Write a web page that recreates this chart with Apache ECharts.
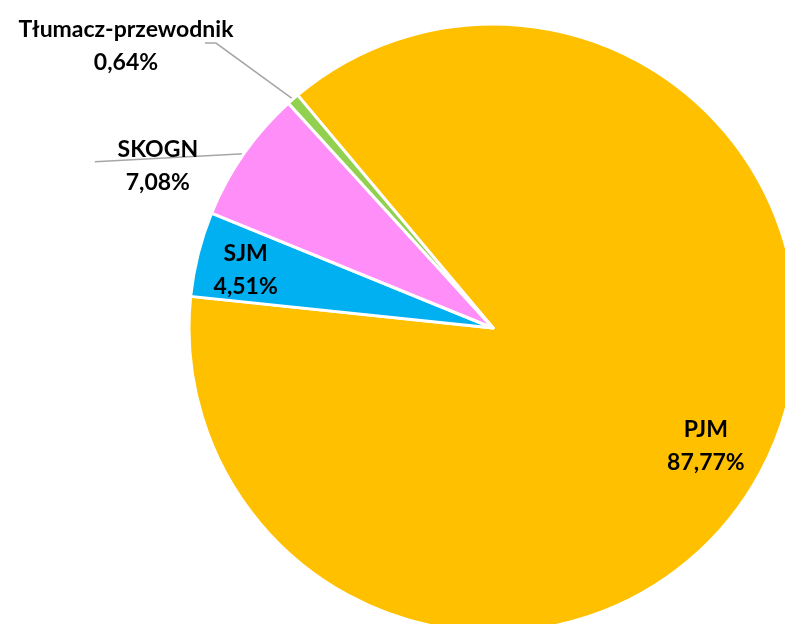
<!DOCTYPE html>
<html>
<head>
<meta charset="utf-8">
<script src="https://cdn.jsdelivr.net/npm/echarts@6/dist/echarts.min.js"></script>
<style>
html,body{margin:0;padding:0;background:#fff;}
#chart{width:785px;height:624px;}
</style>
</head>
<body>
<div id="chart"></div>
<script>
const categories = ['PJM', 'SJM', 'SKOGN', 'Tłumacz-przewodnik'];
const values = [87.77, 4.51, 7.08, 0.64];
const colors = ['#FFC000', '#00B0F0', '#FF8EF8', '#92D050'];
const labelPositions = ['inside', 'inside', 'outside', 'outside'];

const chart = echarts.init(document.getElementById('chart'));

const data = categories.map((name, i) => ({
  name: name,
  value: values[i],
  itemStyle: { color: colors[i] },
  label: { position: labelPositions[i] },
  labelLine: { show: labelPositions[i] === 'outside' }
}));

function fmt(v) { return v.toFixed(2).replace('.', ',') + '%'; }

chart.setOption({
  animation: false,
  backgroundColor: '#ffffff',
  series: [{
    type: 'pie',
    center: [493, 328],
    radius: 304,
    startAngle: 130,
    clockwise: true,
    avoidLabelOverlap: false,
    itemStyle: { borderColor: '#ffffff', borderWidth: 3 },
    label: {
      formatter: p => p.name + '\n' + fmt(p.value),
      fontFamily: 'Lato',
      fontWeight: 'bold',
      fontSize: 23,
      lineHeight: 33,
      color: '#000000',
      align: 'center'
    },
    labelLine: {
      length: 10,
      length2: 10,
      lineStyle: { color: '#A6A6A6', width: 1.5 }
    },
    labelLayout: function (p) {
      const r = p.labelRect;
      const cx = r.x + r.width / 2, cy = r.y + r.height / 2;
      if (p.dataIndex === 0) {
        return { x: cx + 76, y: cy + 45, align: 'center', verticalAlign: 'middle' };
      }
      if (p.dataIndex === 1) {
        return { x: cx - 97, y: cy - 20, align: 'center', verticalAlign: 'middle' };
      }
      const a = p.labelLinePoints[0];
      if (p.dataIndex === 2) {
        return {
          x: a[0] - 86, y: a[1] + 12, align: 'center', verticalAlign: 'middle',
          labelLinePoints: [[a[0], a[1]], [a[0] - 149, a[1] + 8]]
        };
      }
      return {
        x: a[0] - 167, y: a[1] - 53, align: 'center', verticalAlign: 'middle',
        labelLinePoints: [[a[0], a[1]], [a[0] - 77, a[1] - 56], [a[0] - 88, a[1] - 56]]
      };
    },
    data: data
  }]
});
</script>
</body>
</html>
